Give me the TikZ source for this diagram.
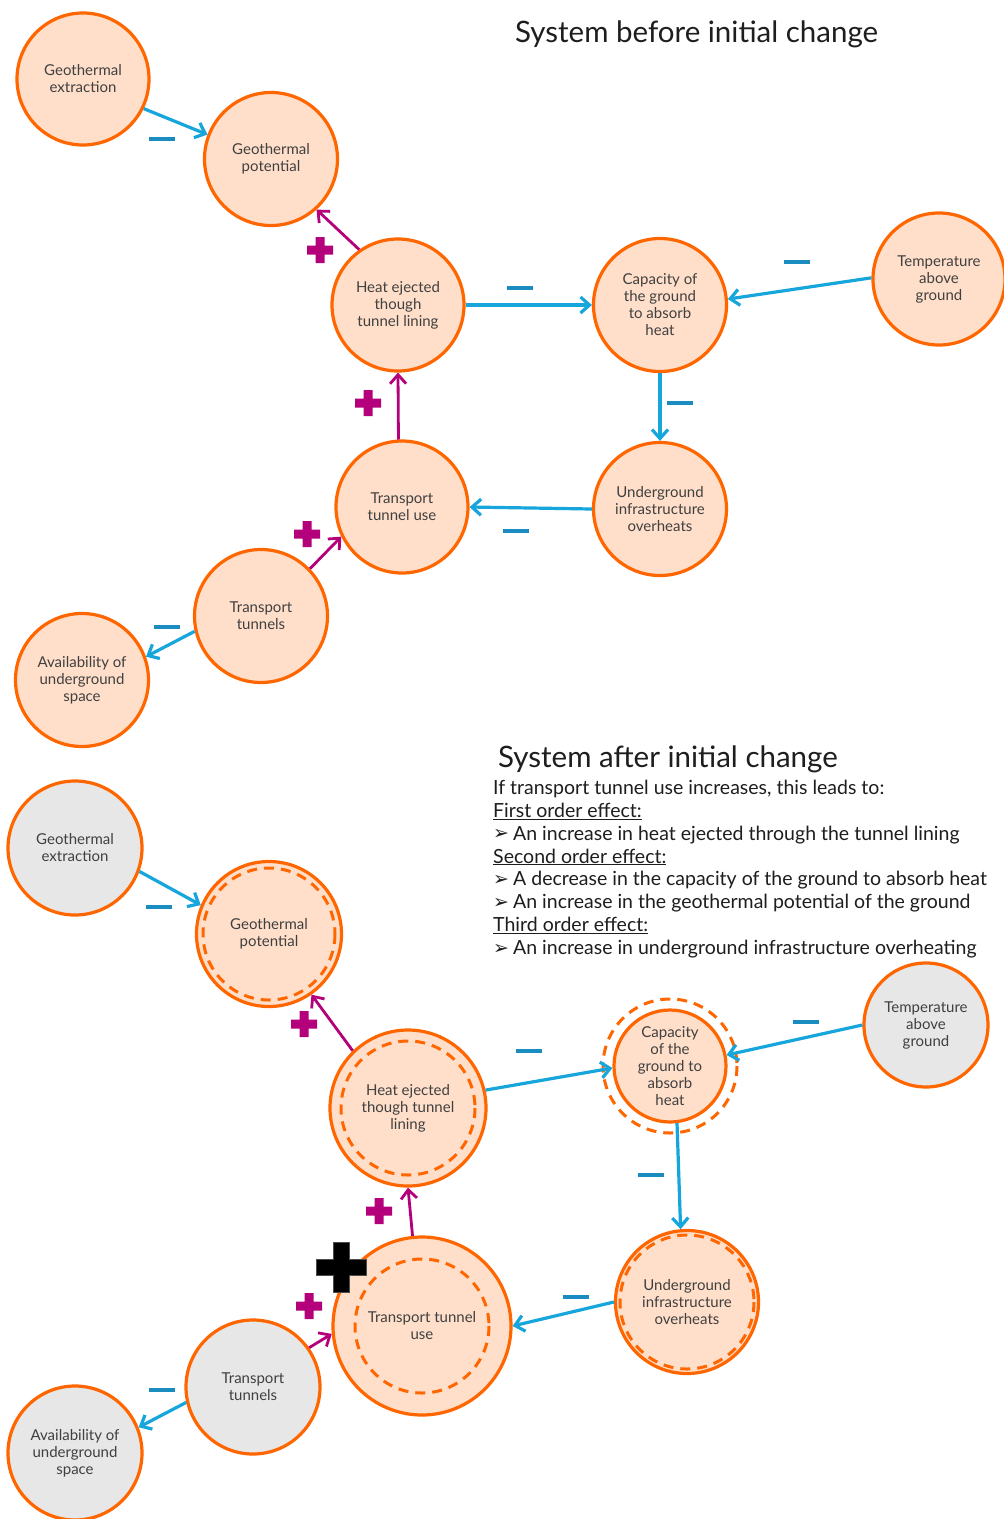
\documentclass[tikz,border=0pt]{standalone}
\usepackage{fontspec}
\setmainfont{Lato}
\newfontfamily\dejavu{DejaVu Sans}
\usetikzlibrary{arrows.meta}
\definecolor{orng}{HTML}{FF6600}
\definecolor{peach}{HTML}{FFDFCA}
\definecolor{lgray}{HTML}{E7E7E7}
\definecolor{arrblue}{HTML}{16A6DC}
\definecolor{minblue}{HTML}{1A8CC0}
\definecolor{mag}{HTML}{B4007A}
\definecolor{txtgray}{HTML}{404040}
\definecolor{titlegray}{HTML}{1E1E1E}
\newcommand{\bul}{\makebox[20pt][l]{\raisebox{0.5pt}{\dejavu\fontsize{19}{19}\selectfont ➢}}}
\begin{document}
\begin{tikzpicture}[x=1pt,y=-1pt,
  cnode/.style={circle, draw=orng, line width=3.2pt, fill=peach, inner sep=0pt, align=center, text=txtgray, font=\fontsize{15}{17}\selectfont},
  gnode/.style={cnode, fill=lgray},
  dcirc/.style={draw=orng, line width=3pt, dash pattern=on 10pt off 7pt},
  barrow/.style={draw=arrblue, line width=3.2pt, -{Straight Barb[length=9pt,width=16pt]}},
  marrow/.style={draw=mag, line width=2.8pt, -{Straight Barb[length=9pt,width=16pt]}},
  plusmark/.pic={\fill[mag] (-13,-4.5) -- (-4.5,-4.5) -- (-4.5,-13) -- (4.5,-13) -- (4.5,-4.5) -- (13,-4.5) -- (13,4.5) -- (4.5,4.5) -- (4.5,13) -- (-4.5,13) -- (-4.5,4.5) -- (-13,4.5) -- cycle;},
  minusmark/.pic={\draw[minblue, line width=4pt] (-13,0) -- (13,0);},
  bigplus/.pic={\filldraw[fill=black, draw=black!70, line width=1pt] (-25,-8) -- (-8,-8) -- (-8,-25) -- (8,-25) -- (8,-8) -- (25,-8) -- (25,8) -- (8,8) -- (8,25) -- (-8,25) -- (-8,8) -- (-25,8) -- cycle;},
  ttl/.style={text=titlegray, font=\fontsize{29.5}{34}\selectfont, inner sep=0pt}
]
\useasboundingbox[fill=white] (0,0) rectangle (1004,1519);

% ---------------- top diagram ----------------
\node[ttl, anchor=base west] (title1) at (515,42) {System before initial change};

\node[cnode, minimum size=132pt] (GE1) at (83,79) {Geothermal\\extraction};
\node[cnode, minimum size=133pt] (GP1) at (271,159) {Geothermal\\potential};
\node[cnode, minimum size=132pt] (HE1) at (398,305) {Heat ejected\\though\\tunnel lining};
\node[cnode, minimum size=133pt] (CAP1) at (660,305) {Capacity of\\the ground\\to absorb\\heat};
\node[cnode, minimum size=132pt] (TAG1) at (939,279) {Temperature\\above\\ground};
\node[cnode, minimum size=133pt] (UI1) at (660,509) {Underground\\infrastructure\\overheats};
\node[cnode, minimum size=132pt] (TTU1) at (402,507) {Transport\\tunnel use};
\node[cnode, minimum size=133pt] (TT1) at (261,616) {Transport\\tunnels};
\node[cnode, minimum size=133pt] (AV1) at (82,680) {Availability of\\underground\\space};

\draw[barrow] (GE1.-26) -- (GP1.159);
\draw[marrow] (HE1.125) -- (GP1.-48);
\draw[barrow] (HE1.0) -- (CAP1.180);
\draw[barrow] (TAG1.179) -- (CAP1.5);
\draw[barrow] (CAP1.-90) -- (UI1.90);
\draw[barrow] (UI1.180) -- (TTU1.0);
\draw[marrow] (TTU1.93) -- (HE1.-90);
\draw[marrow] (TT1.44) -- (TTU1.206);
\draw[barrow] (TT1.193) -- (AV1.20);

\pic at (162,139) {minusmark};
\pic at (520,288) {minusmark};
\pic at (797,262) {minusmark};
\pic at (680,403) {minusmark};
\pic at (516,531) {minusmark};
\pic at (167,627) {minusmark};
\pic at (320,250) {plusmark};
\pic at (368,403) {plusmark};
\pic at (307,534) {plusmark};

% ---------------- bottom diagram ----------------
\node[ttl, anchor=base west] (title2) at (498,767) {System after initial change};
\node[anchor=north west, align=left, inner sep=0pt, text=titlegray, font=\fontsize{19.5}{22.85}\selectfont] (effects) at (493,780) {%
If transport tunnel use increases, this leads to:\\
\underline{First order effect:}\\
\bul An increase in heat ejected through the tunnel lining\\
\underline{Second order effect:}\\
\bul A decrease in the capacity of the ground to absorb heat\\
\bul An increase in the geothermal potential of the ground\\
\underline{Third order effect:}\\
\bul An increase in underground infrastructure overheating};

\node[gnode, minimum size=134pt] (GE2) at (75,848) {Geothermal\\extraction};
\node[cnode, minimum size=145pt] (GP2) at (269,934) {Geothermal\\potential};
\node[cnode, minimum size=156pt] (HE2) at (408,1108) {Heat ejected\\though tunnel\\lining};
\node[cnode, minimum size=112pt] (CAP2) at (670,1066) {Capacity\\of the\\ground to\\absorb\\heat};
\node[gnode, minimum size=124pt] (TAG2) at (926,1025) {Temperature\\above\\ground};
\node[cnode, minimum size=143pt] (UI2) at (687,1302) {Underground\\infrastructure\\overheats};
\node[cnode, minimum size=178pt] (TTU2) at (422,1326) {Transport tunnel\\use};
\node[gnode, minimum size=134pt] (TT2) at (253,1387) {Transport\\tunnels};
\node[gnode, minimum size=134pt] (AV2) at (75,1453) {Availability of\\underground\\space};

\draw[dcirc] (GP2.center) circle (66);
\draw[dcirc] (HE2.center) circle (67);
\draw[dcirc] (CAP2.center) circle (67);
\draw[dcirc] (UI2.center) circle (67);
\draw[dcirc] (TTU2.center) circle (67);

\draw[barrow] (GE2.-20) -- (GP2.157);
\draw[marrow] (HE2.134) -- (GP2.-55);
\draw[barrow] (HE2.13) -- (CAP2.182);
\draw[barrow] (TAG2.180) -- (CAP2.11);
\draw[barrow] (CAP2.-83) -- (UI2.95);
\draw[barrow] (UI2.180) -- (TTU2.0);
\draw[marrow] (TTU2.96) -- (HE2.-90);
\draw[marrow] (TT2.35) -- (TTU2.185);
\draw[barrow] (TT2.193) -- (AV2.22);

\pic at (159,907) {minusmark};
\pic at (529,1051) {minusmark};
\pic at (806,1022) {minusmark};
\pic at (651,1175) {minusmark};
\pic at (576,1297) {minusmark};
\pic at (162,1390) {minusmark};
\pic at (304,1024) {plusmark};
\pic at (379,1211) {plusmark};
\pic at (309,1306) {plusmark};
\pic at (341,1267) {bigplus};
\end{tikzpicture}
\end{document}
